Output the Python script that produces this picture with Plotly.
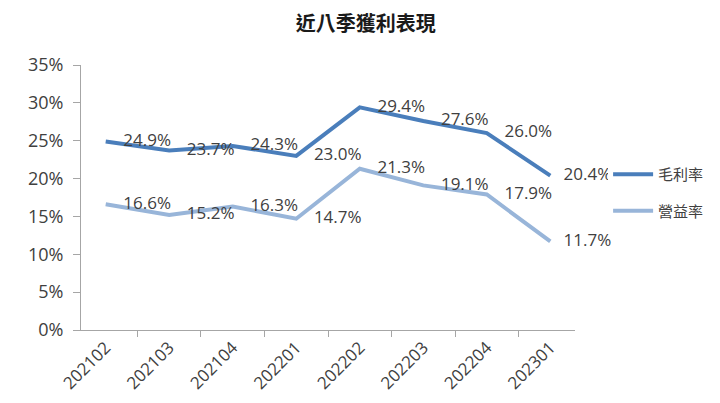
import plotly.graph_objects as go

# Données
quarters = ["202102", "202103", "202104", "202201", "202202", "202203", "202204", "202301"]
gross_margin = [24.9, 23.7, 24.3, 23.0, 29.4, 27.6, 26.0, 20.4]
op_margin = [16.6, 15.2, 16.3, 14.7, 21.3, 19.1, 17.9, 11.7]
y_ticks = [0, 5, 10, 15, 20, 25, 30, 35]

font_txt = "Open Sans, Noto Sans CJK TC, sans-serif"
font_cjk = "Noto Sans CJK TC, sans-serif"

fig = go.Figure()

# Deux séries : 毛利率 et 營益率
series = [("毛利率", gross_margin, "#4A7EBB"), ("營益率", op_margin, "#98B5D9")]
for name, vals, color in series:
    # étiquettes à droite du point, un peu moins d'écart pour le dernier
    labels = ["    %.1f%%" % v for v in vals]
    labels[-1] = "   %.1f%%" % vals[-1]
    fig.add_trace(go.Scatter(
        x=quarters, y=vals, name=name, legendgroup=name,
        mode="lines+text",
        line=dict(color=color, width=4),
        text=labels,
        textposition="middle right",
        textfont=dict(size=17, color="#404040", family=font_txt),
        cliponaxis=False,
    ))

# Marges compensées pour le décalage de 8 px de la page
fig.update_layout(
    width=720, height=403,
    margin=dict(l=73, r=153, t=57, b=81),
    paper_bgcolor="white", plot_bgcolor="white",
    title=dict(text="<b>近八季獲利表現</b>", x=0.497, xanchor="center", y=0.96, yanchor="middle",
               font=dict(size=20, family=font_cjk, color="#1a1a1a")),
    showlegend=True,
    legend=dict(x=1.067, y=0.649, xanchor="left", yanchor="top",
                font=dict(size=15, family=font_cjk, color="#404040"),
                traceorder="grouped", tracegroupgap=14, itemwidth=40),
    xaxis=dict(
        type="category", tickson="boundaries", ticks="outside", ticklen=6,
        tickcolor="#a6a6a6", showline=True, linecolor="#a6a6a6", linewidth=1,
        showgrid=False, tickangle=-45, automargin=False,
        tickfont=dict(size=17, family=font_txt, color="#404040"),
    ),
    yaxis=dict(
        range=[0, 35], tickvals=y_ticks, ticktext=["%d%%" % t for t in y_ticks],
        ticks="outside", ticklen=7, tickcolor="#a6a6a6", ticklabelstandoff=6,
        showline=True, linecolor="#a6a6a6", linewidth=1, showgrid=False,
        zeroline=False, automargin=False,
        tickfont=dict(size=18, family=font_txt, color="#404040"),
    ),
)

fig.write_html("out.html")
